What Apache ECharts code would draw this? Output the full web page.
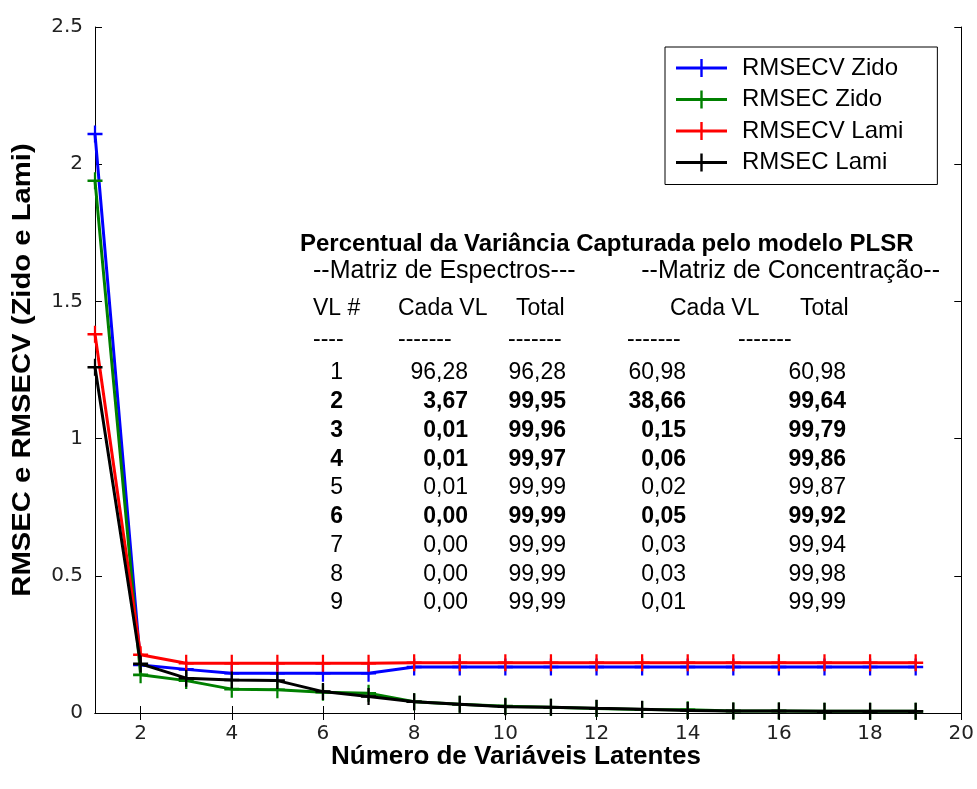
<!DOCTYPE html>
<html>
<head>
<meta charset="utf-8">
<script src="https://cdn.jsdelivr.net/npm/echarts@6/dist/echarts.min.js"></script>
<style>html,body{margin:0;padding:0;background:#fff}#c{width:977px;height:789px}</style>
</head>
<body>
<div id="c"></div>
<script>
// ---- data ----
const latentVars = [1,2,3,4,5,6,7,8,9,10,11,12,13,14,15,16,17,18,19];
const rmsecvZido = [2.11,0.175,0.159,0.145,0.145,0.145,0.145,0.168,0.168,0.168,0.168,0.168,0.168,0.168,0.168,0.168,0.168,0.168,0.168];
const rmsecZido  = [1.94,0.139,0.118,0.087,0.085,0.076,0.072,0.041,0.032,0.025,0.021,0.016,0.013,0.012,0.007,0.007,0.006,0.006,0.006];
const rmsecvLami = [1.38,0.212,0.181,0.181,0.181,0.181,0.181,0.183,0.183,0.183,0.183,0.183,0.183,0.183,0.183,0.183,0.183,0.183,0.183];
const rmsecLami  = [1.26,0.179,0.127,0.120,0.118,0.078,0.060,0.041,0.032,0.023,0.021,0.017,0.014,0.009,0.007,0.007,0.006,0.006,0.006];
const seriesNames = ['RMSECV Zido','RMSEC Zido','RMSECV Lami','RMSEC Lami'];
const xTickValues = [2,4,6,8,10,12,14,16,18,20];
const xTitle = 'Número de Variáveis Latentes';
const yTitle = 'RMSEC e RMSECV (Zido e Lami)';

// table
const tableTitle = 'Percentual da Variância Capturada pelo modelo PLSR';
const tableGroups = ['--Matriz de Espectros---', '--Matriz de Concentração--'];
const tableHeaders = ['VL #','Cada VL','Total','Cada VL','Total'];
const tableDashes = ['----','-------','-------','-------','-------'];
const vlNumbers = ['1','2','3','4','5','6','7','8','9'];
const espCada  = ['96,28','3,67','0,01','0,01','0,01','0,00','0,00','0,00','0,00'];
const espTotal = ['96,28','99,95','99,96','99,97','99,99','99,99','99,99','99,99','99,99'];
const concCada = ['60,98','38,66','0,15','0,06','0,02','0,05','0,03','0,03','0,01'];
const concTotal= ['60,98','99,64','99,79','99,86','99,87','99,92','99,94','99,98','99,99'];
const boldRows = [false,true,true,true,false,true,false,false,false];

// ---- styles ----
const colors = ['#0000ff','#008000','#ff0000','#000000'];
const valuesList = [rmsecvZido, rmsecZido, rmsecvLami, rmsecLami];
const plusPath = 'path://M0,6.8L16,6.8L16,9.2L0,9.2Z M6.8,0L9.2,0L9.2,16L6.8,16Z';
const legendPath = 'path://M0,7.6L51,7.6L51,10.4L0,10.4Z M24.3,0L26.7,0L26.7,18L24.3,18Z';
const FONT = '"Liberation Sans", Arial, sans-serif';

const chart = echarts.init(document.getElementById('c'), null, {renderer:'canvas'});

const series = seriesNames.map((n,i)=>({
  name:n, type:'line', xAxisIndex:0, yAxisIndex:0,
  data: latentVars.map((x,j)=>[x, valuesList[i][j]]),
  symbol: plusPath, symbolSize:[15,17], showAllSymbol:true,
  lineStyle:{color:colors[i], width:3},
  itemStyle:{color:colors[i]},
  animation:false, z: 2+i
}));

// table graphics
const g = [];
const rowFont = '23px ' + FONT;
const rowBold = 'bold 23px ' + FONT;
g.push({type:'text', style:{text:tableTitle, x:300, y:244, font:'bold 24px ' + FONT, textVerticalAlign:'middle', fill:'#000'}});
g.push({type:'text', style:{text:tableGroups[0], x:313, y:271, font:'25px ' + FONT, textVerticalAlign:'middle', fill:'#000'}});
g.push({type:'text', style:{text:tableGroups[1], x:940, y:271, font:'25px ' + FONT, textAlign:'right', textVerticalAlign:'middle', fill:'#000'}});
const headerX = [313, 398, 516, 670, 800];
tableHeaders.forEach((h,i)=>g.push({type:'text', style:{text:h, x:headerX[i], y:309, font:rowFont, textVerticalAlign:'middle', fill:'#000'}}));
const dashX = [313, 398, 508, 627, 738];
tableDashes.forEach((h,i)=>g.push({type:'text', style:{text:h, x:dashX[i], y:340, font:rowFont, textVerticalAlign:'middle', fill:'#000'}}));
const colRight = [343, 468, 566, 686, 846];
const cols = [vlNumbers, espCada, espTotal, concCada, concTotal];
vlNumbers.forEach((v,r)=>{
  cols.forEach((col,c)=>{
    g.push({type:'text', style:{text:col[r], x:colRight[c], y:373 + r*28.75, font: boldRows[r]?rowBold:rowFont, textAlign:'right', textVerticalAlign:'middle', fill:'#000'}});
  });
});
// axis titles
g.push({type:'text', x:516, y:757, style:{text:xTitle, x:0, y:0, font:'bold 26px ' + FONT, textAlign:'center', textVerticalAlign:'middle', fill:'#000'}});
g.push({type:'text', x:23, y:370, rotation:Math.PI/2, scaleX:1.17, style:{text:yTitle, x:0, y:0, font:'bold 25px ' + FONT, textAlign:'center', textVerticalAlign:'middle', fill:'#000'}});

const option = {
  backgroundColor:'#fff',
  animation:false,
  grid:{left:95, right:15, top:27, bottom:76, show:false},
  legend:{
    data: seriesNames.map((n,i)=>({name:n, icon:legendPath, itemStyle:{color:colors[i]}})),
    orient:'vertical', left:665, top:47,
    itemWidth:51, itemHeight:18, itemGap:7.5,
    padding:[9,34,10,11],
    borderColor:'#000', borderWidth:1, backgroundColor:'#fff',
    textStyle:{fontSize:24, fontFamily:FONT, color:'#000', padding:[0,0,0,10]}
  },
  xAxis:[{
    type:'value', min:1, max:20, position:'bottom',
    axisLine:{show:true, lineStyle:{color:'#000', width:1}},
    axisTick:{show:true, inside:true, length:7, customValues:xTickValues, lineStyle:{color:'#000'}},
    axisLabel:{show:true, customValues:xTickValues, margin:11, fontSize:20, fontFamily:'"DejaVu Sans", sans-serif', color:'#222'},
    splitLine:{show:false}
  },{
    type:'value', min:1, max:20, position:'top',
    axisLine:{show:true, lineStyle:{color:'#000', width:1}},
    axisTick:{show:true, inside:true, length:7, customValues:xTickValues, lineStyle:{color:'#000'}},
    axisLabel:{show:false}, splitLine:{show:false}
  }],
  yAxis:[{
    type:'value', min:0, max:2.5, interval:0.5, position:'left',
    axisLine:{show:true, lineStyle:{color:'#000', width:1}},
    axisTick:{show:true, inside:true, length:7, lineStyle:{color:'#000'}},
    axisLabel:{show:true, margin:12, fontSize:20, fontFamily:'"DejaVu Sans", sans-serif', color:'#222'},
    splitLine:{show:false}
  },{
    type:'value', min:0, max:2.5, interval:0.5, position:'right',
    axisLine:{show:true, lineStyle:{color:'#000', width:1}},
    axisTick:{show:true, inside:true, length:7, lineStyle:{color:'#000'}},
    axisLabel:{show:false}, splitLine:{show:false}
  }],
  series: series,
  graphic: g
};
chart.setOption(option);
</script>
</body>
</html>
